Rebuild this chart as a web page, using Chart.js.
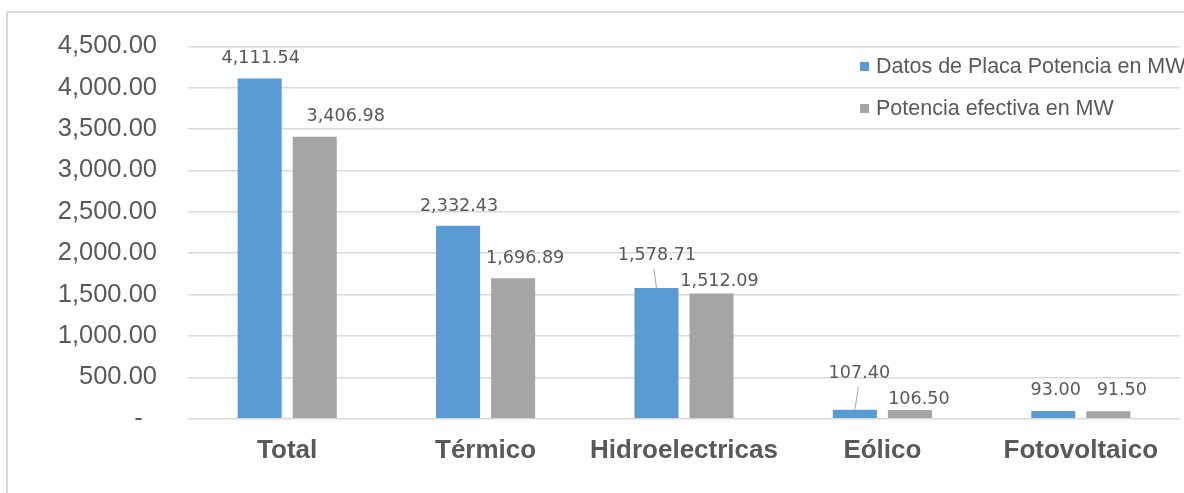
<!DOCTYPE html>
<html>
<head>
<meta charset="utf-8">
<script src="https://cdn.jsdelivr.net/npm/chart.js@4.4.1/dist/chart.umd.min.js"></script>
<style>
  html, body { margin: 0; padding: 0; background: #ffffff; }
  #wrap { position: relative; width: 1184px; height: 493px; overflow: hidden; }
  #frame { position: absolute; left: 6px; top: 11px; width: 1200px; height: 520px;
           border-top: 2px solid #d9d9d9; border-left: 2px solid #d9d9d9; box-sizing: border-box; }
  #c { position: absolute; left: 0; top: 0; }
</style>
</head>
<body>
<div id="wrap">
  <div id="frame"></div>
  <canvas id="c" width="1184" height="493"></canvas>
</div>
<script>
// ---- data ----
const categories = ['Total', 'Térmico', 'Hidroelectricas', 'Eólico', 'Fotovoltaico'];
const placaValues = [4111.54, 2332.43, 1578.71, 107.40, 93.00];
const efectivaValues = [3406.98, 1696.89, 1512.09, 106.50, 91.50];
const seriesNames = ['Datos de Placa Potencia en MW', 'Potencia efectiva en MW'];
const yMax = 4500;
const yStep = 500;

// ---- styling / label placement (not data) ----
const colors = ['#5B9BD5', '#A5A5A5'];
const textColor = '#595959';
// per-label offsets: [dx, gap above bar top to baseline, leader dx or null]
const labelPlacement = [
  [[1, 15, null], [1, 14.5, null], [0.5, 28, -2.5], [4.5, 32, 3.5], [2.5, 16, null]],
  [[31, 15.5, null], [12, 15.5, null], [8, 7.5, null], [9, 6, null], [13.5, 16, null]]
];

function fmt(v) {
  return v.toLocaleString('en-US', { minimumFractionDigits: 2, maximumFractionDigits: 2 });
}

const dataLabelPlugin = {
  id: 'dataLabels',
  afterDatasetsDraw(chart) {
    const ctx = chart.ctx;
    ctx.save();
    ctx.font = '17.6px "DejaVu Sans"';
    ctx.fillStyle = textColor;
    ctx.textAlign = 'center';
    ctx.textBaseline = 'alphabetic';
    chart.data.datasets.forEach((ds, di) => {
      const meta = chart.getDatasetMeta(di);
      meta.data.forEach((bar, i) => {
        const p = labelPlacement[di][i];
        const tx = bar.x + p[0];
        const ty = bar.y - p[1];
        ctx.fillText(fmt(ds.data[i]), tx, ty);
        if (p[2] !== null) {
          ctx.beginPath();
          ctx.strokeStyle = '#a6a6a6';
          ctx.lineWidth = 1;
          ctx.moveTo(bar.x + p[2], ty + 9);
          ctx.lineTo(bar.x, bar.y);
          ctx.stroke();
        }
      });
    });
    ctx.restore();
  }
};

const legendPlugin = {
  id: 'customLegend',
  afterDraw(chart) {
    const ctx = chart.ctx;
    ctx.save();
    ctx.font = '21.5px "Liberation Sans", Arial, sans-serif';
    ctx.textBaseline = 'middle';
    ctx.textAlign = 'left';
    const rows = [66, 108];
    chart.data.datasets.forEach((ds, di) => {
      ctx.fillStyle = ds.backgroundColor;
      ctx.fillRect(860, rows[di] - 4, 9, 9);
      ctx.fillStyle = textColor;
      ctx.fillText(ds.label, 876, rows[di] + 1);
    });
    ctx.restore();
  }
};

new Chart(document.getElementById('c'), {
  type: 'bar',
  data: {
    labels: categories,
    datasets: [
      { label: seriesNames[0], data: placaValues, backgroundColor: colors[0],
        categoryPercentage: 0.555, barPercentage: 0.8 },
      { label: seriesNames[1], data: efectivaValues, backgroundColor: colors[1],
        categoryPercentage: 0.555, barPercentage: 0.8 }
    ]
  },
  options: {
    responsive: false,
    animation: false,
    devicePixelRatio: 1,
    layout: { padding: { left: 0, right: 4, top: 44, bottom: 0 } },
    plugins: {
      legend: { display: false },
      tooltip: { enabled: false },
      title: { display: false }
    },
    scales: {
      x: {
        grid: { display: false },
        border: { display: false },
        ticks: {
          color: textColor,
          font: { family: '"Liberation Sans", Arial, sans-serif', size: 26, weight: 'bold' },
          padding: 9,
          maxRotation: 0
        },
        afterFit(scale) { scale.height = 74.3; }
      },
      y: {
        min: 0,
        max: yMax,
        border: { display: false },
        grid: { color: '#d9d9d9', lineWidth: 1.5, drawTicks: false },
        ticks: {
          stepSize: yStep,
          color: textColor,
          padding: 31,
          font: { family: '"Liberation Sans", Arial, sans-serif', size: 25.5 },
          callback: (v) => v === 0 ? '-  ' : fmt(v)
        },
        afterFit(scale) { scale.width = 188; }
      }
    }
  },
  plugins: [dataLabelPlugin, legendPlugin]
});
</script>
</body>
</html>
